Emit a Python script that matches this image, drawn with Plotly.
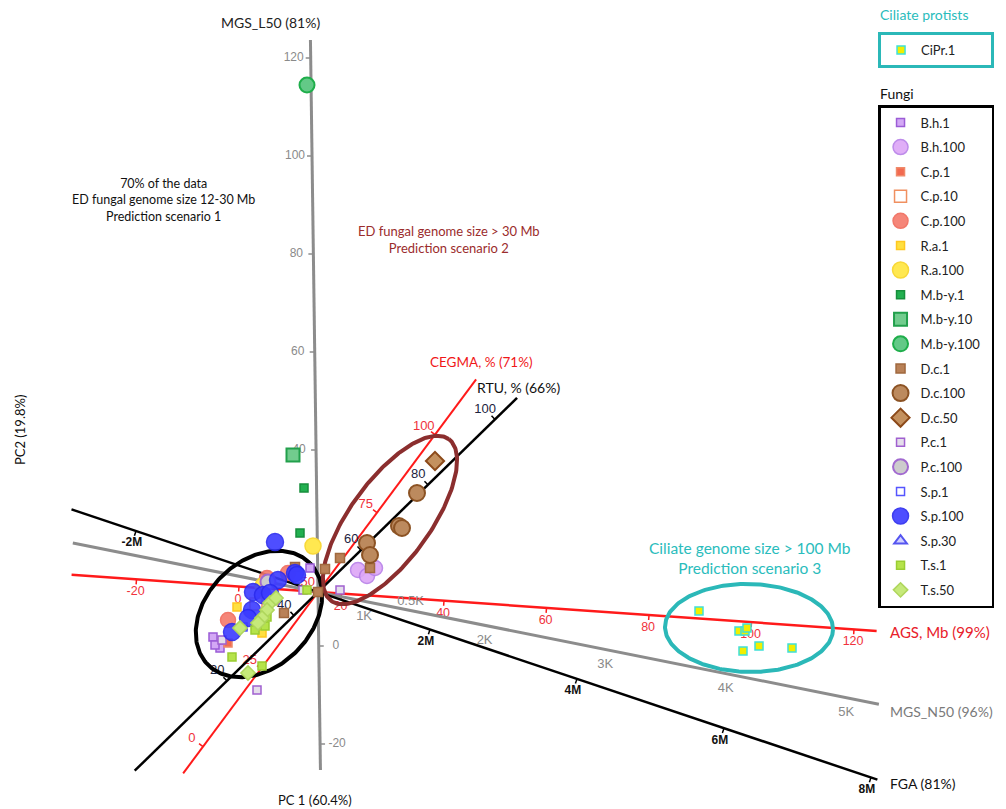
import numpy as np
import plotly.graph_objects as go

# ---------------------------------------------------------------------------
# Sample scores on the first two principal components (PC1, PC2)
# ---------------------------------------------------------------------------
cipr1_pc1 = [3.81, 4.21, 4.27, 4.29, 4.25, 4.41, 4.74]
cipr1_pc2 = [-0.19, -0.39, -0.39, -0.36, -0.59, -0.54, -0.56]

bh1_pc1 = [-1.05, -0.98, -1.03, -0.08]
bh1_pc2 = [-0.45, -0.56, -0.53, 0.24]
bh100_pc1 = [0.40, 0.49, 0.57]
bh100_pc2 = [0.22, 0.16, 0.24]
cp1_pc1 = [-0.90]
cp1_pc2 = [-0.51]
cp10_pc1 = [-0.62]
cp10_pc2 = [-0.12]
cp100_pc1 = [-0.30, -0.51, -0.90]
cp100_pc2 = [0.19, 0.14, -0.28]
ra1_pc1 = [-0.55, -0.81, -0.56]
ra1_pc2 = [0.09, -0.15, -0.41]
ra100_pc1 = [-0.05, -0.55]
ra100_pc2 = [0.46, 0.06]
mby1_pc1 = [-0.14, -0.18]
mby1_pc2 = [1.04, 0.59]
mby10_pc1 = [-0.25]
mby10_pc2 = [1.37]
mby100_pc1 = [-0.11]
mby100_pc2 = [5.07]
dc1_pc1 = [0.22, 0.52, -0.34, -0.23, 0.00, 0.07]
dc1_pc2 = [0.34, 0.24, -0.21, 0.25, 0.00, 0.23]
dc100_pc1 = [0.99, 0.81, 0.84, 0.49, 0.52]
dc100_pc2 = [0.99, 0.66, 0.64, 0.49, 0.37]
dc50_pc1 = [1.17]
dc50_pc2 = [1.31]
pcs1_pc1 = [-0.96, -0.61, 0.22, -0.15, -0.43]
pcs1_pc2 = [-0.48, -0.98, 0.02, 0.02, -0.08]
pcs100_pc1 = [-0.50]
pcs100_pc2 = [0.10]
sp1_pc1 = [-0.75]
sp1_pc2 = [-0.35]
sp100_pc1 = [-0.43, -0.23, -0.40, -0.65, -0.55, -0.48, -0.66, -0.70, -0.86, -0.21]
sp100_pc2 = [0.50, 0.19, 0.12, 0.00, -0.03, -0.01, -0.18, -0.26, -0.40, 0.17]
sp30_pc1 = [-0.77]
sp30_pc2 = [-0.35]
ts1_pc1 = [-0.11, -0.51, -0.58, -0.63, -0.53, -0.86, -0.56]
ts1_pc2 = [0.02, -0.25, -0.30, -0.38, -0.34, -0.65, -0.74]
ts50_pc1 = [-0.48, -0.51, -0.56, -0.60, -0.78, -0.70, -0.42]
ts50_pc2 = [-0.11, -0.18, -0.26, -0.31, -0.36, -0.81, -0.06]

# Calibrated variable axes: tick values and their printed text
ags_ticks = [-20, 0, 20, 40, 60, 80, 100, 120]
ags_text = ["-20", "0", "20", "40", "60", "80", "100", "120"]
n50_ticks = [0.5, 1, 2, 3, 4, 5]
n50_text = ["0.5K", "1K", "2K", "3K", "4K", "5K"]
fga_ticks = [-2, 2, 4, 6, 8]
fga_text = ["-2M", "2M", "4M", "6M", "8M"]
cegma_ticks = [0, 25, 50, 75, 100]
cegma_text = ["0", "25", "50", "75", "100"]
rtu_ticks = [20, 40, 60, 80, 100]
rtu_text = ["20", "40", "60", "80", "100"]
l50_ticks = [-20, 0, 40, 60, 80, 100, 120]
l50_text = ["-20", "0", "40", "60", "80", "100", "120"]

LABEL_FONT = "Lato, 'Open Sans', sans-serif"
TICK_FONT = "'Liberation Sans', Arial, sans-serif"

fig = go.Figure()

# ---------------------------------------------------------------------------
# Biplot axes (lines through the origin, position along axis t = a + b * value)
# ---------------------------------------------------------------------------
biplot_axes = [
    dict(dir=(1, -0.0696), a=-0.792, b=0.051375, t=(-2.47, 5.60),
         ticks=ags_ticks, text=ags_text, color="#FF1A1A", width=2.5,
         side=-1, dist=0.13, tick_len=0.05, font=dict(color="#F0323C", size=12.5),
         nudge={}),
    dict(dir=(1, -0.2), a=-0.729, b=1.229, t=(-2.50, 5.72),
         ticks=n50_ticks, text=n50_text, color="#8C8C8C", width=3,
         side=-1, dist=0.15, tick_len=0.0, font=dict(color="#8A8A8A", size=13),
         nudge={0.5: (1.04, 0.09)}),
    dict(dir=(1, -0.3354), a=-0.369, b=0.7752, t=(-2.60, 5.90),
         ticks=fga_ticks, text=fga_text, color="#000000", width=2.5,
         side=-1, dist=0.13, tick_len=0.05,
         font=dict(color="#111111", size=12, weight="bold"), nudge={}),
    dict(dir=(1, 1.345), a=-1.927, b=0.03888, t=(-2.26, 2.65),
         ticks=cegma_ticks, text=cegma_text, color="#FF1A1A", width=2,
         side=1, dist=0.14, tick_len=0.05, font=dict(color="#F0323C", size=13),
         nudge={}),
    dict(dir=(1, 0.975), a=-2.208, b=0.0468, t=(-2.56, 2.78),
         ticks=rtu_ticks, text=rtu_text, color="#000000", width=2.5,
         side=1, dist=0.14, tick_len=0.05, font=dict(color="#1C2340", size=13),
         nudge={}),
    dict(dir=(-0.0137, 1), a=-0.54, b=0.049, t=(-1.78, 5.52),
         ticks=l50_ticks, text=l50_text, color="#8C8C8C", width=3,
         side="sign", dist=0.17, tick_len=0.05, font=dict(color="#8A8A8A", size=12),
         nudge={}),
]

for ax in biplot_axes:
    u = np.array(ax["dir"], dtype=float)
    u /= np.hypot(*u)
    nrm = np.array([-u[1], u[0]])
    t0, t1 = ax["t"]
    fig.add_trace(go.Scatter(x=[t0 * u[0], t1 * u[0]], y=[t0 * u[1], t1 * u[1]],
                             mode="lines", line=dict(color=ax["color"], width=ax["width"]),
                             hoverinfo="skip", showlegend=False))
    sx, sy, lx, ly = [], [], [], []
    for v in ax["ticks"]:
        t = ax["a"] + ax["b"] * v
        p = t * u
        side = ax["side"]
        if side == "sign":
            side = 1 if v > 0 else -1
        if ax["tick_len"] > 0:
            q = p + side * ax["tick_len"] * nrm
            sx += [p[0], q[0], None]
            sy += [p[1], q[1], None]
        if v in ax["nudge"]:
            along, perp = ax["nudge"][v]
            lp = p + along * u + perp * nrm
        else:
            lp = p + side * ax["dist"] * nrm
        lx.append(lp[0])
        ly.append(lp[1])
    if sx:
        fig.add_trace(go.Scatter(x=sx, y=sy, mode="lines",
                                 line=dict(color=ax["color"], width=1.5),
                                 hoverinfo="skip", showlegend=False))
    fig.add_trace(go.Scatter(x=lx, y=ly, mode="text", text=ax["text"],
                             textposition="middle center",
                             textfont=dict(family=TICK_FONT, **ax["font"]),
                             hoverinfo="skip", showlegend=False))


# ---------------------------------------------------------------------------
# Prediction-scenario ellipses
# ---------------------------------------------------------------------------
def ellipse(cx, cy, a, b, ang_deg, n=240):
    th = np.linspace(0, 2 * np.pi, n)
    ang = np.deg2rad(ang_deg)
    x = cx + a * np.cos(th) * np.cos(ang) - b * np.sin(th) * np.sin(ang)
    y = cy + a * np.cos(th) * np.sin(ang) + b * np.sin(th) * np.cos(ang)
    return x, y


for cx, cy, a, b, ang, col in [(-0.59, -0.22, 0.72, 0.53, 45, "#000000"),
                               (0.72, 0.72, 1.00, 0.40, 54, "#8B2E2E"),
                               (4.31, -0.36, 0.84, 0.44, -1, "#2BB8B8")]:
    ex, ey = ellipse(cx, cy, a, b, ang)
    fig.add_trace(go.Scatter(x=ex, y=ey, mode="lines", line=dict(color=col, width=4),
                             hoverinfo="skip", showlegend=False))


# ---------------------------------------------------------------------------
# Sample groups (legend entries padded so both boxes share one width)
# ---------------------------------------------------------------------------
def add_group(name, xs, ys, symbol, size, fill, edge, lw=1.5, legend="legend2",
              opacity=1.0, pad=2):
    fig.add_trace(go.Scatter(
        x=xs, y=ys, mode="markers", name=name + "\u00a0" * pad,
        legend=legend, legendgroup=name,
        marker=dict(symbol=symbol, size=size, color=fill, opacity=opacity,
                    line=dict(color=edge, width=lw)),
    ))


add_group("CiPr.1", cipr1_pc1, cipr1_pc2, "square", 8, "#F2EE00", "#3FE0D8", 1.5,
          legend="legend", pad=9)
add_group("B.h.1", bh1_pc1, bh1_pc2, "square", 8, "#D3A8F5", "#9B5CD6")
add_group("B.h.100", bh100_pc1, bh100_pc2, "circle", 15, "#DDA6F7", "#B77FE8", 1.5, opacity=0.9)
add_group("C.p.1", cp1_pc1, cp1_pc2, "square", 8, "#F26A50", "#F08A6A")
add_group("C.p.10", cp10_pc1, cp10_pc2, "square", 12, "#FFFFFF", "#F09060", 1.5)
add_group("C.p.100", cp100_pc1, cp100_pc2, "circle", 15, "#F5796B", "#F06A5A", 1.5, opacity=0.9)
add_group("R.a.1", ra1_pc1, ra1_pc2, "square", 8, "#FFE040", "#FFC820")
add_group("R.a.100", ra100_pc1, ra100_pc2, "circle", 16, "#FFE850", "#F8D838", 1.5)
add_group("M.b-y.1", mby1_pc1, mby1_pc2, "square", 8, "#22B050", "#178F3C")
add_group("M.b-y.10", mby10_pc1, mby10_pc2, "square", 13, "#72CC8E", "#22A04C", 2)
add_group("M.b-y.100", mby100_pc1, mby100_pc2, "circle", 15, "#63C987", "#1FAE4B", 2)
add_group("D.c.1", dc1_pc1, dc1_pc2, "square", 9, "#B98157", "#A0683E")
add_group("D.c.100", dc100_pc1, dc100_pc2, "circle", 16, "#BC8A5E", "#8C5324", 2)
add_group("D.c.50", dc50_pc1, dc50_pc2, "diamond", 14, "#C4915F", "#8C4A1A", 2)
add_group("P.c.1", pcs1_pc1, pcs1_pc2, "square", 8, "#E4DDEA", "#A060D0", 1.5)
add_group("P.c.100", pcs100_pc1, pcs100_pc2, "circle", 15, "#CCCCCC", "#A26AD0", 2)
add_group("S.p.1", sp1_pc1, sp1_pc2, "square", 8, "#FFFFFF", "#5555FF", 1.5)
add_group("S.p.100", sp100_pc1, sp100_pc2, "circle", 17, "#3B3BFF", "#2A2AEE", 1.5, opacity=0.9)
add_group("S.p.30", sp30_pc1, sp30_pc2, "triangle-up", 11, "#D0D0FF", "#5555F0", 2)
add_group("T.s.1", ts1_pc1, ts1_pc2, "square", 8, "#B5E34A", "#9ACD32")
add_group("T.s.50", ts50_pc1, ts50_pc2, "diamond", 11, "#C6E97A", "#AFD65C", 1.5)


# ---------------------------------------------------------------------------
# Text
# ---------------------------------------------------------------------------
def note(x, y, text, color="#111111", size=14, xanchor="center", angle=0):
    fig.add_annotation(x=x, y=y, xref="x", yref="y", text=text, showarrow=False,
                       xanchor=xanchor, yanchor="middle", textangle=angle,
                       font=dict(family=LABEL_FONT, size=size, color=color))


note(-0.48, 5.70, "MGS_L50 (81%)", "#222222", 14)
note(-1.55, 3.92, "70% of the data<br>ED fungal genome size 12-30 Mb<br>Prediction scenario 1",
     "#111111", 12.5)
note(1.31, 3.53, "ED fungal genome size &gt; 30 Mb<br>Prediction scenario 2", "#9B2C2C", 13)
note(1.63, 2.30, "CEGMA, % (71%)", "#F01818", 13.5)
note(2.00, 2.05, "RTU, % (66%)", "#111111", 14)
note(4.32, 0.34, "Ciliate genome size &gt; 100 Mb<br>Prediction scenario 3", "#2ABCBC", 15.5)
note(5.70, -0.40, "AGS, Mb (99%)", "#E8202A", 15, "left")
note(5.70, -1.19, "MGS_N50 (96%)", "#7A7A7A", 14, "left")
note(5.70, -1.91, "FGA (81%)", "#111111", 14, "left")
note(-0.03, -2.08, "PC 1 (60.4%)", "#111111", 13)
note(-2.98, 1.62, "PC2 (19.8%)", "#111111", 13, angle=-90)
note(5.60, 5.78, "Ciliate protists", "#2ABCBC", 14, "left")
note(5.60, 4.99, "Fungi", "#111111", 14, "left")

fig.update_layout(
    width=1006, height=809,
    margin=dict(l=0, r=0, t=0, b=0, autoexpand=False),
    paper_bgcolor="white", plot_bgcolor="white",
    xaxis=dict(range=[-3.18, 6.88], visible=False, fixedrange=True),
    yaxis=dict(range=[-2.17, 5.92], visible=False, fixedrange=True),
    legend=dict(x=0.8728, y=1 - 32 / 809, xanchor="left", yanchor="top",
                bordercolor="#2BB8B8", borderwidth=3, bgcolor="white",
                font=dict(family=LABEL_FONT, size=13, color="#222222"),
                traceorder="grouped", tracegroupgap=5),
    legend2=dict(x=0.8728, y=1 - 105 / 809, xanchor="left", yanchor="top",
                 bordercolor="#000000", borderwidth=2.5, bgcolor="white",
                 font=dict(family=LABEL_FONT, size=13, color="#222222"),
                 traceorder="grouped", tracegroupgap=4.7),
    showlegend=True,
)

fig.write_html("out.html")
